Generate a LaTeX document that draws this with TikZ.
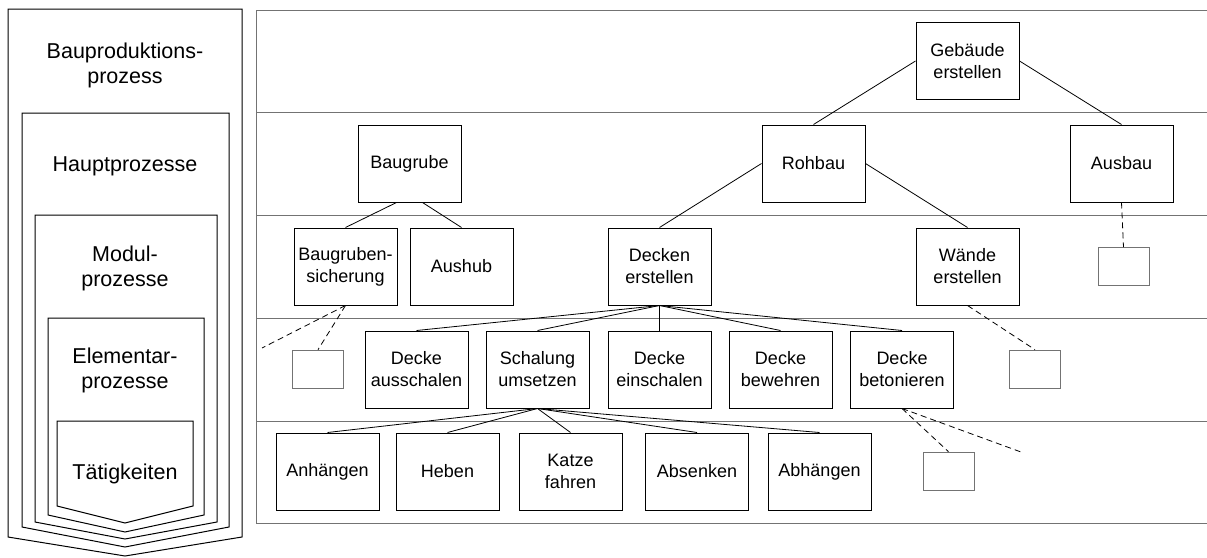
\documentclass[tikz,border=0pt]{standalone}
\usepackage{fontspec}
\setmainfont{Liberation Sans}
\begin{document}
\begin{tikzpicture}[x=1pt,y=-1pt,
  procbox/.style={draw, line width=1pt, minimum width=103pt, minimum height=77pt,
    inner sep=0pt, align=center, font=\fontsize{18}{22}\selectfont},
  stubbox/.style={draw=black!55, line width=0.6pt, minimum width=51pt,
    minimum height=38pt, inner sep=0pt},
  linkline/.style={line width=0.8pt},
  stubline/.style={line width=0.8pt, dash pattern=on 6pt off 4pt},
  tieline/.style={draw=black!55, line width=0.6pt},
  shellline/.style={draw, line width=1pt},
  lefttext/.style={align=center, inner sep=0pt, font=\fontsize{21.5}{25}\selectfont}
]
\useasboundingbox (0,0) rectangle (1207,557);

% nested process levels (left column)
\draw[shellline] (8,9)   -- (8,537)   -- (125,556) -- (242,537) -- (242,9)   -- cycle;
\draw[shellline] (22,113) -- (22,527) -- (125,547) -- (229,527) -- (229,113) -- cycle;
\draw[shellline] (35,215) -- (35,522) -- (125,539) -- (217,522) -- (217,215) -- cycle;
\draw[shellline] (48,318) -- (48,515) -- (125,532) -- (204,515) -- (204,318) -- cycle;
\draw[shellline] (57,421) -- (57,506) -- (125,523) -- (193,506) -- (193,421) -- cycle;

\node[lefttext] (lvA) at (125,65)    {Bauproduktions-\\prozess};
\node[lefttext] (lvB) at (125,166.5) {Hauptprozesse};
\node[lefttext] (lvC) at (125,268.5) {Modul-\\prozesse};
\node[lefttext] (lvD) at (125,370)   {Elementar-\\prozesse};
\node[lefttext] (lvE) at (125,473.5) {Tätigkeiten};

% level bands of the hierarchy
\draw[tieline] (1207,10) -- (256,10) -- (256,523) -- (1207,523);
\foreach \yy in {112,215,318,421}
  \draw[tieline] (256,\yy) -- (1207,\yy);

% level 1
\node[procbox] (geb) at (967.5,61) {Gebäude\\erstellen};
% level 2
\node[procbox] (grube)  at (409.5,163.5)  {Baugrube};
\node[procbox] (rohbau) at (813.5,163.5)  {Rohbau};
\node[procbox] (ausbau) at (1121.5,163.5) {Ausbau};
% level 3
\node[procbox] (sich)   at (345.5,266.5) {Baugruben-\\sicherung};
\node[procbox] (aushub) at (461.5,266.5) {Aushub};
\node[procbox] (decken) at (659.5,266.5) {Decken\\erstellen};
\node[procbox] (waende) at (967.5,266.5) {Wände\\erstellen};
% level 4
\node[procbox] (aussch) at (416.5,369.5) {Decke\\ausschalen};
\node[procbox] (schal)  at (537.5,369.5) {Schalung\\umsetzen};
\node[procbox] (einsch) at (659.5,369.5) {Decke\\einschalen};
\node[procbox] (bewehr) at (780.5,369.5) {Decke\\bewehren};
\node[procbox] (beton)  at (902,369.5)   {Decke\\betonieren};
% level 5
\node[procbox] (anh)   at (327.5,471.5) {Anhängen};
\node[procbox] (heben) at (447.5,471.5) {Heben};
\node[procbox] (katze) at (570.5,471.5) {Katze\\fahren};
\node[procbox] (absen) at (697,471.5)   {Absenken};
\node[procbox] (abh)   at (819.5,471.5) {Abhängen};

% placeholders for further sub-processes
\node[stubbox] (stA) at (318,369)    {};
\node[stubbox] (stB) at (1035,369)   {};
\node[stubbox] (stC) at (1123.5,266.5) {};
\node[stubbox] (stD) at (948.5,471)  {};
\coordinate (openA) at (262,348);
\coordinate (openB) at (1021,452);

% hierarchy links
\draw[linkline] (geb.west) -- (rohbau.north);
\draw[linkline] (geb.east) -- (ausbau.north);
\draw[linkline] ([xshift=-13pt]grube.south) -- (sich.north);
\draw[linkline] ([xshift=13pt]grube.south) -- (aushub.north);
\draw[linkline] (rohbau.west) -- (decken.north);
\draw[linkline] (rohbau.east) -- (waende.north);
\foreach \t in {aussch,schal,einsch,bewehr,beton}
  \draw[linkline] (decken.south) -- (\t.north);
\foreach \t in {anh,heben,katze,absen,abh}
  \draw[linkline] (schal.south) -- (\t.north);

% links to further sub-processes
\draw[stubline] (sich.south) -- (stA.north);
\draw[stubline] (sich.south) -- (openA);
\draw[stubline] (waende.south) -- (stB.north);
\draw[stubline] (ausbau.south) -- (stC.north);
\draw[stubline] (beton.south) -- (stD.north);
\draw[stubline] (beton.south) -- (openB);
\end{tikzpicture}
\end{document}
